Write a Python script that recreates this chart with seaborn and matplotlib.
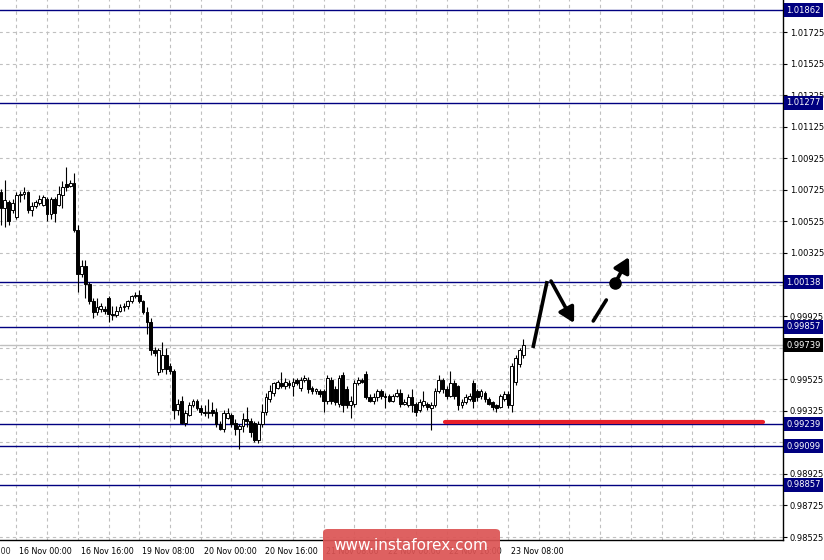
import matplotlib
matplotlib.use("Agg")
import matplotlib.pyplot as plt
import matplotlib.transforms as mtransforms
from matplotlib.patches import FancyBboxPatch
import numpy as np
import pandas as pd
import seaborn as sns

# ---------------- data (H1 bars) ----------------
opens = [1.0071, 1.0061, 1.0065, 1.0060, 1.0055, 1.0069, 1.0070, 1.0071, 1.0060, 1.0062,
         1.0064, 1.0063, 1.0067, 1.0057, 1.0067, 1.0063, 1.0069, 1.0076, 1.0075, 1.0077,
         1.0047, 1.0019, 1.0024, 1.0013, 1.0002, 0.9995, 0.9997, 0.9997, 1.0004, 0.9994,
         0.9993, 0.9996, 0.9998, 0.9999, 1.0002, 1.0005, 1.0006, 1.0002, 0.9995, 0.9989,
         0.9971, 0.9957, 0.9959, 0.9968, 0.9961, 0.9958, 0.9933, 0.9939, 0.9925, 0.9930,
         0.9936, 0.9939, 0.9934, 0.9932, 0.9931, 0.9933, 0.9932, 0.9924, 0.9921, 0.9928,
         0.9930, 0.9925, 0.9921, 0.9923, 0.9927, 0.9926, 0.9925, 0.9914, 0.9924, 0.9932,
         0.9940, 0.9944, 0.9947, 0.9950, 0.9948, 0.9950, 0.9948, 0.9952, 0.9947, 0.9952,
         0.9952, 0.9947, 0.9945, 0.9945, 0.9945, 0.9939, 0.9952, 0.9946, 0.9937, 0.9955,
         0.9946, 0.9936, 0.9937, 0.9950, 0.9952, 0.9956, 0.9941, 0.9939, 0.9941, 0.9945,
         0.9942, 0.9942, 0.9939, 0.9942, 0.9944, 0.9937, 0.9936, 0.9941, 0.9937, 0.9933,
         0.9936, 0.9937, 0.9934, 0.9936, 0.9945, 0.9952, 0.9946, 0.9942, 0.9950, 0.9948,
         0.9936, 0.9938, 0.9940, 0.9950, 0.9945, 0.9942, 0.9944, 0.9940, 0.9938, 0.9936,
         0.9935, 0.9940, 0.9943, 0.9936, 0.9951, 0.9962, 0.9968]
highs = [1.0073, 1.0079, 1.0066, 1.0067, 1.0071, 1.0072, 1.0074, 1.0072, 1.0065, 1.0066,
         1.0069, 1.0069, 1.0068, 1.0068, 1.0068, 1.0075, 1.0078, 1.0087, 1.0079, 1.0083,
         1.0050, 1.0028, 1.0028, 1.0014, 1.0004, 1.0004, 1.0001, 0.9999, 1.0005, 0.9999,
         0.9999, 1.0000, 1.0001, 1.0003, 1.0006, 1.0008, 1.0009, 1.0003, 0.9998, 0.9991,
         0.9973, 0.9972, 0.9976, 0.9972, 0.9963, 0.9959, 0.9940, 0.9942, 0.9933, 0.9938,
         0.9940, 0.9940, 0.9936, 0.9936, 0.9940, 0.9938, 0.9934, 0.9926, 0.9933, 0.9934,
         0.9931, 0.9927, 0.9924, 0.9931, 0.9935, 0.9928, 0.9926, 0.9926, 0.9937, 0.9944,
         0.9949, 0.9951, 0.9952, 0.9957, 0.9953, 0.9952, 0.9953, 0.9953, 0.9954, 0.9955,
         0.9954, 0.9948, 0.9947, 0.9946, 0.9946, 0.9955, 0.9954, 0.9948, 0.9955, 0.9957,
         0.9948, 0.9942, 0.9952, 0.9954, 0.9953, 0.9958, 0.9943, 0.9944, 0.9946, 0.9946,
         0.9944, 0.9943, 0.9943, 0.9946, 0.9946, 0.9940, 0.9943, 0.9946, 0.9938, 0.9940,
         0.9945, 0.9938, 0.9938, 0.9947, 0.9955, 0.9953, 0.9948, 0.9958, 0.9952, 0.9949,
         0.9940, 0.9943, 0.9944, 0.9952, 0.9946, 0.9946, 0.9945, 0.9941, 0.9939, 0.9937,
         0.9943, 0.9945, 0.9945, 0.9963, 0.9968, 0.9972, 0.9978]
lows = [1.0050, 1.0049, 1.0050, 1.0058, 1.0054, 1.0065, 1.0067, 1.0058, 1.0056, 1.0061,
        1.0063, 1.0062, 1.0053, 1.0054, 1.0052, 1.0062, 1.0061, 1.0072, 1.0074, 1.0046,
        1.0008, 1.0017, 1.0004, 1.0000, 0.9991, 0.9993, 0.9995, 0.9994, 0.9989, 0.9990,
        0.9992, 0.9995, 0.9996, 0.9997, 1.0001, 1.0004, 1.0001, 0.9994, 0.9981, 0.9968,
        0.9967, 0.9955, 0.9957, 0.9956, 0.9956, 0.9927, 0.9930, 0.9924, 0.9923, 0.9929,
        0.9935, 0.9933, 0.9930, 0.9929, 0.9928, 0.9929, 0.9922, 0.9920, 0.9919, 0.9927,
        0.9922, 0.9917, 0.9908, 0.9919, 0.9922, 0.9916, 0.9913, 0.9912, 0.9922, 0.9930,
        0.9938, 0.9942, 0.9946, 0.9947, 0.9946, 0.9947, 0.9942, 0.9949, 0.9945, 0.9951,
        0.9944, 0.9943, 0.9943, 0.9941, 0.9932, 0.9937, 0.9937, 0.9936, 0.9935, 0.9932,
        0.9934, 0.9928, 0.9935, 0.9949, 0.9950, 0.9940, 0.9938, 0.9937, 0.9939, 0.9940,
        0.9934, 0.9938, 0.9938, 0.9941, 0.9935, 0.9936, 0.9935, 0.9932, 0.9929, 0.9932,
        0.9935, 0.9933, 0.9920, 0.9935, 0.9944, 0.9944, 0.9940, 0.9941, 0.9940, 0.9933,
        0.9934, 0.9937, 0.9939, 0.9934, 0.9939, 0.9940, 0.9938, 0.9936, 0.9933, 0.9932,
        0.9934, 0.9939, 0.9934, 0.9932, 0.9949, 0.9960, 0.9966]
closes = [1.0061, 1.0066, 1.0053, 1.0064, 1.0069, 1.0070, 1.0071, 1.0060, 1.0062, 1.0065,
          1.0067, 1.0068, 1.0057, 1.0067, 1.0058, 1.0070, 1.0074, 1.0074, 1.0077, 1.0047,
          1.0019, 1.0024, 1.0013, 1.0002, 0.9995, 0.9998, 0.9999, 0.9996, 0.9994, 0.9993,
          0.9996, 0.9998, 0.9999, 1.0002, 1.0005, 1.0006, 1.0002, 0.9995, 0.9989, 0.9971,
          0.9969, 0.9971, 0.9968, 0.9959, 0.9958, 0.9933, 0.9937, 0.9925, 0.9931, 0.9936,
          0.9939, 0.9934, 0.9932, 0.9931, 0.9932, 0.9931, 0.9924, 0.9921, 0.9931, 0.9931,
          0.9924, 0.9921, 0.9923, 0.9927, 0.9926, 0.9919, 0.9914, 0.9924, 0.9932, 0.9941,
          0.9945, 0.9950, 0.9951, 0.9948, 0.9951, 0.9949, 0.9951, 0.9950, 0.9952, 0.9953,
          0.9946, 0.9945, 0.9946, 0.9943, 0.9939, 0.9953, 0.9939, 0.9938, 0.9953, 0.9936,
          0.9936, 0.9939, 0.9950, 0.9952, 0.9951, 0.9941, 0.9939, 0.9941, 0.9945, 0.9942,
          0.9941, 0.9939, 0.9942, 0.9944, 0.9937, 0.9938, 0.9941, 0.9936, 0.9932, 0.9938,
          0.9939, 0.9935, 0.9936, 0.9945, 0.9952, 0.9946, 0.9942, 0.9950, 0.9942, 0.9936,
          0.9938, 0.9941, 0.9942, 0.9939, 0.9941, 0.9945, 0.9940, 0.9937, 0.9935, 0.9934,
          0.9942, 0.9943, 0.9936, 0.9961, 0.9966, 0.9971, 0.9974]

# time axis labels (bar index -> label), one every 16 bars
time_ticks = [-12, 4, 20, 36, 52, 68, 84, 100, 116, 132]
time_labels = ["15 Nov 08:00", "16 Nov 00:00", "16 Nov 16:00", "19 Nov 08:00", "20 Nov 00:00",
               "20 Nov 16:00", "21 Nov 08:00", "22 Nov 00:00", "22 Nov 16:00", "23 Nov 08:00"]

price_ticks = [0.98525, 0.98725, 0.98925, 0.99125, 0.99325, 0.99525, 0.99725, 0.99925,
               1.00125, 1.00325, 1.00525, 1.00725, 1.00925, 1.01125, 1.01325, 1.01525, 1.01725]
# scale labels that sit fully under a price box on the terminal
hidden_ticks = [0.99125, 0.99725, 1.00125]

levels = [1.01862, 1.01277, 1.00138, 0.99857, 0.99239, 0.99099, 0.98857]
last_price = 0.99739

support_x = [115.6, 198.4]
support_y = [0.99251, 0.99251]

# hand-drawn forecast path
path_up_x, path_up_y = [138.5, 142.2], [0.99723, 1.00147]
path_down_x, path_down_y = [143.2, 149.2], [1.00147, 0.99881]
path_dash_x, path_dash_y = [154.2, 157.6], [0.99894, 1.00027]
path_end_x, path_end_y = [159.9, 163.5], [1.00134, 1.00299]

df = pd.DataFrame({"open": opens, "high": highs, "low": lows, "close": closes})
df["bar"] = np.arange(len(df))

XLIM = (-0.26, 203.6)
YLIM = (0.98506, 1.01928)

# ---------------- figure ----------------
sns.set_style("white")
plt.rcParams["font.family"] = ["DejaVu Sans"]

fig = plt.figure(figsize=(8.24, 5.6), dpi=100)
ax = fig.add_axes([0, 20 / 560, 783 / 824, 540 / 560])

grid_kw = dict(color="#c0c0c0", lw=0.8, linestyle=(0, (3, 3)), zorder=0)
ax.vlines(np.arange(-4, 204, 8), 0.98, 1.02, **grid_kw)
ax.hlines(price_ticks, -5, 210, **grid_kw)

# level lines
ax.hlines(levels, -5, 210, color="#000080", lw=1, zorder=1)
ax.axhline(last_price, color="#c0c0c0", lw=1, zorder=1)

# candles
up = df["close"] >= df["open"]
ax.vlines(df["bar"], df["low"], df["high"], color="black", lw=0.8, zorder=2)
body_lo = np.minimum(df["open"], df["close"])
body_h = np.maximum((df["close"] - df["open"]).abs(), 0.00003)
ax.bar(df["bar"], body_h, bottom=body_lo, width=0.72,
       color=np.where(up, "white", "black"), edgecolor="black", lw=0.7, zorder=3)

# support line
sns.lineplot(x=support_x, y=support_y, color="#e8202a", lw=3, ax=ax, zorder=4)

# forecast drawing
head = "-|>,head_length=0.9,head_width=0.5"
ax.plot(path_up_x, path_up_y, color="black", lw=2.6, solid_capstyle="butt", zorder=5)
ax.annotate("", xy=(path_down_x[1], path_down_y[1]), xytext=(path_down_x[0], path_down_y[0]),
            arrowprops=dict(arrowstyle=head, lw=2.6, color="black", shrinkA=0, shrinkB=0), zorder=5)
ax.plot(path_dash_x, path_dash_y, color="black", lw=2.6, zorder=5)
ax.plot(path_end_x[0], path_end_y[0], "o", color="black", ms=8, zorder=5)
ax.annotate("", xy=(path_end_x[1], path_end_y[1]), xytext=(path_end_x[0], path_end_y[0]),
            arrowprops=dict(arrowstyle=head, lw=2.6, color="black", shrinkA=0, shrinkB=0), zorder=5)

# axes / ticks
for s in ["top", "left"]:
    ax.spines[s].set_visible(False)
for s in ["right", "bottom"]:
    ax.spines[s].set_color("black")
    ax.spines[s].set_linewidth(1)

ax.yaxis.tick_right()
ax.set_yticks(price_ticks)
ax.set_yticklabels(["" if p in hidden_ticks else f"{p:.5f}" for p in price_ticks])
ax.set_xticks(time_ticks[1:])
ax.set_xticklabels(time_labels[1:])
ax.tick_params(axis="y", direction="out", length=3, width=0.8, pad=2, labelsize=6, colors="black")
ax.tick_params(axis="x", direction="out", length=3, width=0.8, pad=2, labelsize=5.7, colors="black")
offset = mtransforms.ScaledTranslation(2 / 72, 0, fig.dpi_scale_trans)
for lab in ax.get_xticklabels():
    lab.set_horizontalalignment("left")
    lab.set_transform(lab.get_transform() + offset)

# limits after ticks (set_ticks would widen them)
ax.set_xlim(*XLIM)
ax.set_ylim(*YLIM)

# first label is cut by the left edge of the window
xtrans = mtransforms.blended_transform_factory(ax.transData, ax.transAxes)
down = mtransforms.ScaledTranslation(2 / 72, -5 / 72, fig.dpi_scale_trans)
ax.text(time_ticks[0], 0, time_labels[0], transform=xtrans + down, ha="left", va="top",
        fontsize=5.7, clip_on=False)

# price boxes on the scale
trans = mtransforms.blended_transform_factory(ax.transAxes, ax.transData)
for lv in levels:
    ax.annotate(f"{lv:.5f}", xy=(1, lv), xycoords=trans, xytext=(2.4, 0),
                textcoords="offset points", ha="left", va="center", fontsize=6,
                color="white", annotation_clip=False, zorder=10,
                bbox=dict(boxstyle="square,pad=0.3", fc="#000080", ec="none"))
ax.annotate(f"{last_price:.5f}", xy=(1, last_price), xycoords=trans, xytext=(2.4, 0),
            textcoords="offset points", ha="left", va="center", fontsize=6,
            color="white", annotation_clip=False, zorder=10,
            bbox=dict(boxstyle="square,pad=0.3", fc="black", ec="none"))

# watermark
wm = FancyBboxPatch((323 / 824, -0.02), 177 / 824, 31 / 560 + 0.02,
                    boxstyle="round,pad=0,rounding_size=0.006", transform=fig.transFigure,
                    fc="#dc5454", ec="none", alpha=0.92, zorder=20)
fig.patches.append(wm)
fig.text(411 / 824, 14 / 560, "www.instaforex.com", color="white", fontsize=11,
         ha="center", va="center", zorder=21)

fig.savefig("out.png", dpi=100)
